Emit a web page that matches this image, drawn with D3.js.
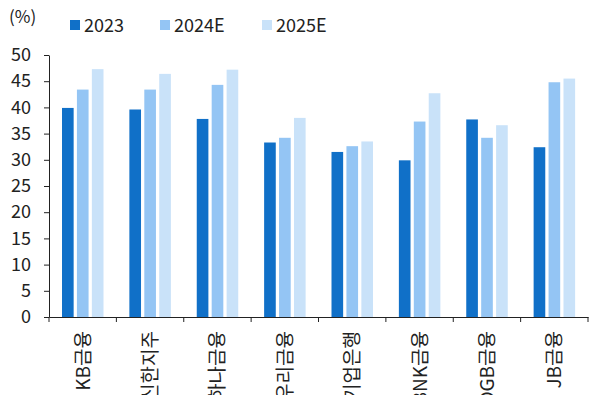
<!DOCTYPE html>
<html>
<head>
<meta charset="utf-8">
<script src="https://d3js.org/d3.v7.min.js"></script>
<style>
  body { margin: 0; background: #fff; }
  text { font-family: "Noto Sans CJK KR", "Noto Sans", sans-serif; fill: #222; }
  .axis path, .axis line { stroke: #222; }
</style>
</head>
<body>
<script>
// data
var companies = ["KB금융", "신한지주", "하나금융", "우리금융", "기업은행", "BNK금융", "DGB금융", "JB금융"];
var series = ["2023", "2024E", "2025E"];
var v2023 = [39.9, 39.6, 37.8, 33.3, 31.5, 29.9, 37.7, 32.4];
var v2024 = [43.4, 43.4, 44.3, 34.2, 32.6, 37.3, 34.2, 44.8];
var v2025 = [47.3, 46.4, 47.2, 38.0, 33.5, 42.7, 36.6, 45.5];
var yTicks = [0, 5, 10, 15, 20, 25, 30, 35, 40, 45, 50];
var colors = ["#1070c8", "#94c5f4", "#c9e2f9"];

var values = [v2023, v2024, v2025];
var W = 590, H = 395;
var m = {left: 49, right: 588, top: 55, bottom: 317};

var svg = d3.select("body").append("svg")
  .attr("width", W).attr("height", H);

var x = d3.scaleBand().domain(companies).range([m.left, m.right]).paddingInner(0).paddingOuter(0);
var xs = d3.scaleBand().domain(series).range([13, 54.5]).paddingInner(0.22);
var y = d3.scaleLinear().domain([0, 50]).range([m.bottom, m.top]);

// bars
companies.forEach(function(c, i) {
  svg.selectAll(null)
    .data(series)
    .enter()
    .append("rect")
      .attr("x", function(s) { return x(c) + xs(s); })
      .attr("width", xs.bandwidth())
      .attr("y", function(s, j) { return y(values[j][i]); })
      .attr("height", function(s, j) { return m.bottom - y(values[j][i]); })
      .attr("fill", function(s, j) { return colors[j]; });
});

// y axis
var ya = svg.append("g")
  .attr("class", "axis")
  .attr("transform", "translate(" + m.left + ",0)")
  .call(d3.axisLeft(y).tickValues(yTicks).tickSize(5).tickPadding(13).tickSizeOuter(0));
ya.selectAll("text").style("font-size", "18px").attr("fill", "#222");

// x axis
var xa = svg.append("g")
  .attr("class", "axis")
  .attr("transform", "translate(0," + m.bottom + ")")
  .call(d3.axisBottom(x).tickSize(0).tickFormat(""));
xa.selectAll(null)
  .data(d3.range(companies.length + 1))
  .enter()
  .append("line")
    .attr("x1", function(d) { return m.left + d * x.step(); })
    .attr("x2", function(d) { return m.left + d * x.step(); })
    .attr("y1", 0).attr("y2", 5)
    .attr("stroke", "#222");

// x labels, rotated
svg.selectAll("text.xl")
  .data(companies)
  .enter()
  .append("text")
    .attr("class", "xl")
    .attr("transform", function(d) {
      return "translate(" + (x(d) + x.bandwidth() / 2 + 7) + "," + (m.bottom + 14) + ")rotate(-90)";
    })
    .style("text-anchor", "end")
    .style("font-size", "19px")
    .text(function(d) { return d; });

// unit
svg.append("text")
  .attr("x", 9).attr("y", 23)
  .style("font-size", "17px")
  .text("(%)");

// legend
var legX = [70, 160, 262];
series.forEach(function(s, j) {
  svg.append("rect")
    .attr("x", legX[j]).attr("y", 20)
    .attr("width", 10).attr("height", 10)
    .attr("fill", colors[j]);
  svg.append("text")
    .attr("x", legX[j] + 14).attr("y", 32)
    .style("font-size", "18px")
    .text(s);
});
</script>
</body>
</html>
